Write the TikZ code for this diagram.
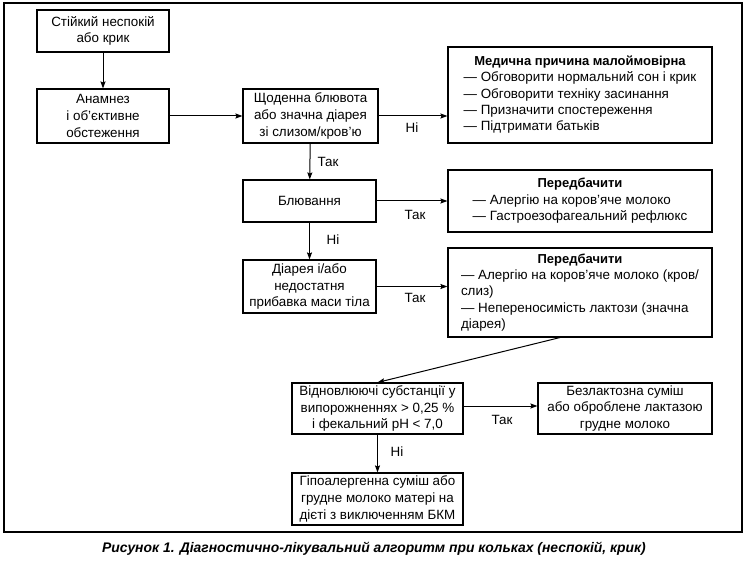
\documentclass[tikz,border=0pt]{standalone}
\usepackage{fontspec}
\setmainfont{Liberation Sans}
\usetikzlibrary{arrows.meta}
\newcommand{\hd}[1]{\multicolumn{1}{@{}c@{}}{\fontsize{13}{16.5}\selectfont\bfseries #1}}
\begin{document}
\begin{tikzpicture}[x=1pt,y=-1pt,
  every node/.style={font=\fontsize{13.4}{16.8}\selectfont},
  box/.style={draw,line width=1.1pt,inner sep=0pt,align=center},
  lbl/.style={inner sep=0pt},
  arr/.style={line width=1pt,-{Stealth[length=7pt,width=5pt,inset=1pt]}}]
\useasboundingbox (0,0) rectangle (747,561);
\node[draw,line width=1.1pt,minimum width=738pt,minimum height=529pt,inner sep=0pt] (frame) at (373,267.5) {};
\node[box,minimum width=132pt,minimum height=42pt] (b1) at (103,31) {Стійкий неспокій\\або крик};
\node[box,minimum width=132pt,minimum height=54pt] (b2) at (103,116) {Анамнез\\і об’єктивне\\обстеження};
\node[box,minimum width=135pt,minimum height=54pt] (b3) at (310.5,116) {Щоденна блювота\\або значна діарея\\зі слизом/кров’ю};
\node[box,minimum width=133pt,minimum height=42pt] (b4) at (309.5,201) {Блювання};
\node[box,minimum width=133pt,minimum height=53pt] (b5) at (309.5,286.5) {Діарея і/або\\недостатня\\прибавка маси тіла};
\node[box,minimum width=264pt,minimum height=96pt] (b6) at (580,95) {\def\arraystretch{0.97}\begin{tabular}{@{}l@{}}\hd{Медична причина малоймовірна}\\— Обговорити нормальний сон і крик\\— Обговорити техніку засинання\\— Призначити спостереження\\— Підтримати батьків\end{tabular}};
\node[box,minimum width=264pt,minimum height=62pt] (b7) at (580,201) {\def\arraystretch{0.97}\begin{tabular}{@{}l@{}}\hd{Передбачити}\\— Алергію на коров’яче молоко\\— Гастроезофагеальний рефлюкс\end{tabular}};
\node[box,minimum width=264pt,minimum height=89pt] (b8) at (580,292.5) {\def\arraystretch{0.97}\begin{tabular}{@{}l@{}}\hd{Передбачити}\\— Алергію на коров’яче молоко (кров/\\слиз)\\— Непереносимість лактози (значна\\діарея)\end{tabular}};
\node[box,minimum width=171pt,minimum height=51pt] (b9) at (377.5,408.5) {Відновлюючі субстанції у\\випорожненнях > 0,25 \%\\і фекальний рН < 7,0};
\node[box,minimum width=174pt,minimum height=51pt] (b10) at (625,408.5) {Безлактозна суміш\\або оброблене лактазою\\грудне молоко};
\node[box,minimum width=171pt,minimum height=52pt] (b11) at (377.5,499) {Гіпоалергенна суміш або\\грудне молоко матері на\\дієті з виключенням БКМ};
\draw[arr] (b1) -- (b2);
\draw[arr] (b2) -- (b3);
\draw[arr] (b3.east) -- (b3.east -| b6.west);
\draw[arr] (b3) -- (b4);
\draw[arr] (b4) -- (b7);
\draw[arr] (b4) -- (b5);
\draw[arr] (b5.east) -- (b5.east -| b8.west);
\draw[arr] ([xshift=-20pt]b8.south) -- (b9.north);
\draw[arr] ([yshift=2.5pt]b9.east) -- ([yshift=2.5pt]b9.east -| b10.west);
\draw[arr] (b9) -- (b11);
\node[lbl] (l1) at (412,128) {Ні};
\node[lbl] (l2) at (328,162) {Так};
\node[lbl] (l3) at (333,240) {Ні};
\node[lbl] (l4) at (415,215) {Так};
\node[lbl] (l5) at (415,298) {Так};
\node[lbl] (l6) at (502,420) {Так};
\node[lbl] (l7) at (397,452) {Ні};
\node[lbl,font=\fontsize{13.9}{16}\selectfont\bfseries\itshape] (cap) at (374,549) {Рисунок 1. Діагностично-лікувальний алгоритм при кольках (неспокій, крик)};
\end{tikzpicture}
\end{document}
